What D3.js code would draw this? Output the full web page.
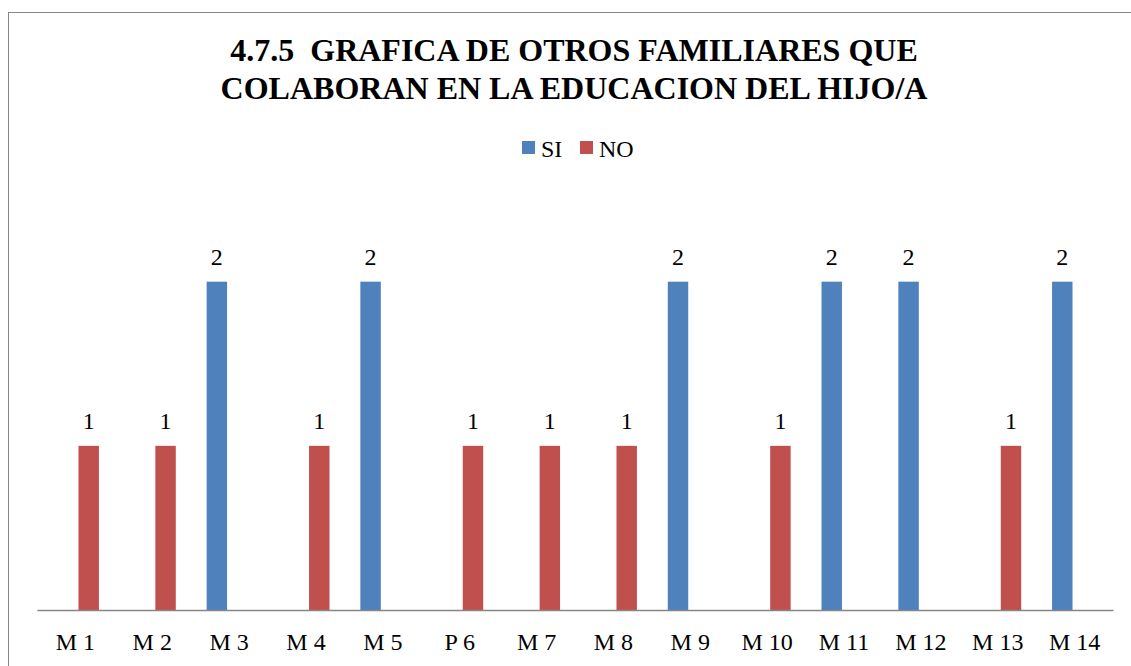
<!DOCTYPE html>
<html>
<head>
<meta charset="utf-8">
<script src="https://cdn.jsdelivr.net/npm/d3@7"></script>
<style>
  body { margin: 0; background: #fff; }
  svg text { font-family: 'Liberation Serif', 'Times New Roman', Times, serif; fill: #000; white-space: pre; }
</style>
</head>
<body>
<svg width="1131" height="666"></svg>
<script>
const categories = ['M 1', 'M 2', 'M 3', 'M 4', 'M 5', 'P 6', 'M 7', 'M 8', 'M 9', 'M 10', 'M 11', 'M 12', 'M 13', 'M 14'];
const siValues = [null, null, 2, null, 2, null, null, null, 2, null, 2, 2, null, 2];
const noValues = [1, 1, null, 1, null, 1, 1, 1, null, 1, null, null, 1, null];
const seriesNames = ['SI', 'NO'];
const titleLines = ['4.7.5  GRAFICA DE OTROS FAMILIARES QUE', 'COLABORAN EN LA EDUCACION DEL HIJO/A'];

const colors = { SI: '#4f81bd', NO: '#c0504d' };
const serif = "'Liberation Serif', 'Times New Roman', Times, serif";

const svg = d3.select('svg');

// outer chart border (extends past the window)
svg.append('rect')
    .attr('x', 8.5)
    .attr('y', 12.5)
    .attr('width', 1140)
    .attr('height', 680)
    .attr('fill', 'none')
    .attr('stroke', '#868686')
    .attr('stroke-width', 1);

const plotLeft = 37;
const plotRight = 1113;
const plotTop = 216;
const plotBottom = 610;

const xScale = d3.scaleBand()
    .domain(categories)
    .range([plotLeft, plotRight]);

const innerScale = d3.scaleBand()
    .domain(seriesNames)
    .range([-22.5, 23.5])
    .paddingInner(0.2);

const yScale = d3.scaleLinear()
    .domain([0, 2.4])
    .range([plotBottom, plotTop]);

// title
svg.append('text')
    .attr('x', 574)
    .attr('y', 61)
    .attr('text-anchor', 'middle')
    .attr('font-family', serif)
    .selectAll('tspan')
    .data(titleLines)
    .join('tspan')
    .attr('x', 574)
    .attr('dy', (d, i) => i === 0 ? 0 : 38)
    .style('font-size', '32px')
    .style('font-weight', 'bold')
    .text(d => d);

// legend
const legendItems = [
  { name: 'SI', x: 522 },
  { name: 'NO', x: 580 }
];
const legend = svg.append('g').attr('class', 'legend');
legend.selectAll('rect')
    .data(legendItems)
    .join('rect')
    .attr('x', d => d.x)
    .attr('y', 141)
    .attr('width', 13)
    .attr('height', 13)
    .attr('fill', d => colors[d.name]);
legend.selectAll('text')
    .data(legendItems)
    .join('text')
    .attr('x', d => d.x + 19)
    .attr('y', 157)
    .attr('font-family', serif)
    .style('font-size', '24px')
    .text(d => d.name);

// bars
const rows = [];
categories.forEach((c, i) => {
  rows.push({ cat: c, series: 'SI', value: siValues[i] });
  rows.push({ cat: c, series: 'NO', value: noValues[i] });
});
const filled = rows.filter(d => d.value !== null);

const chart = svg.append('g').attr('class', 'chart');

chart.selectAll('rect.bar')
    .data(filled)
    .join('rect')
    .attr('class', 'bar')
    .attr('x', d => xScale(d.cat) + xScale.bandwidth() / 2 + innerScale(d.series))
    .attr('y', d => yScale(d.value))
    .attr('width', innerScale.bandwidth())
    .attr('height', d => yScale(0) - yScale(d.value))
    .attr('fill', d => colors[d.series]);

chart.selectAll('text.value')
    .data(filled)
    .join('text')
    .attr('class', 'value')
    .attr('x', d => xScale(d.cat) + xScale.bandwidth() / 2 + innerScale(d.series) + innerScale.bandwidth() / 2)
    .attr('y', d => yScale(d.value) - 17)
    .attr('text-anchor', 'middle')
    .attr('font-family', serif)
    .style('font-size', '24px')
    .text(d => d.value);

// x axis
const xAxis = d3.axisBottom(xScale).tickSize(0).tickPadding(23);
const xAxisG = chart.append('g')
    .attr('transform', `translate(0, ${plotBottom})`)
    .call(xAxis);
xAxisG.attr('font-family', serif);
xAxisG.select('.domain').attr('stroke', '#868686').attr('stroke-width', 1.5);
xAxisG.selectAll('text')
    .attr('font-family', serif)
    .style('font-size', '24px');
</script>
</body>
</html>
